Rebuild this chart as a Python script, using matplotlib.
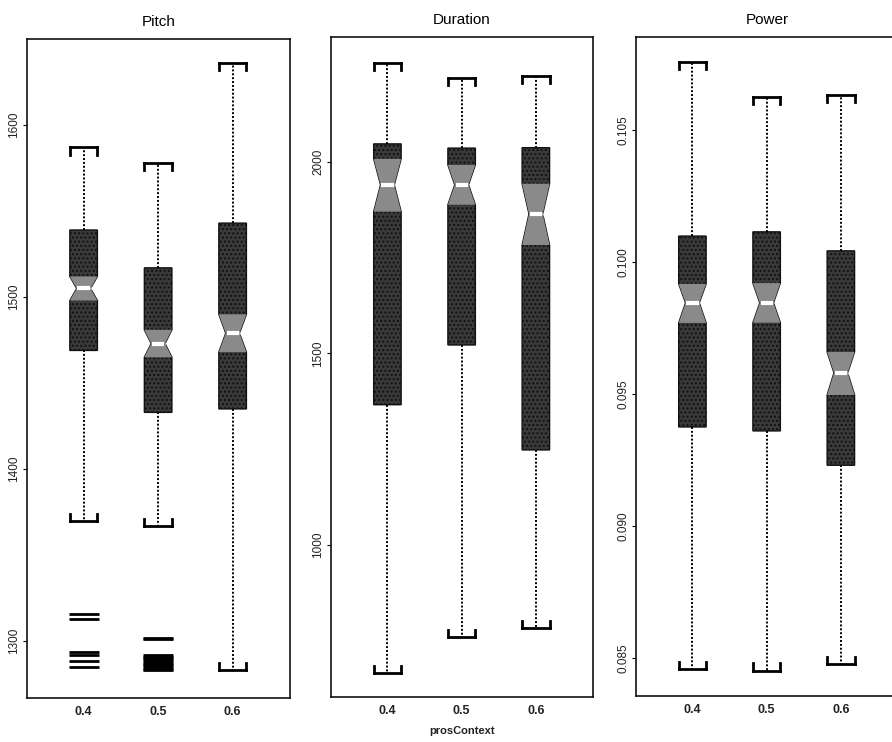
import matplotlib
matplotlib.use("Agg")
import matplotlib.pyplot as plt

plt.rcParams['font.family'] = ['Liberation Sans', 'DejaVu Sans']

categories = ["0.4", "0.5", "0.6"]
titles = ["Pitch", "Duration", "Power"]

# Pitch
pitch_whislo = [1370, 1367, 1283]
pitch_q1 = [1469, 1433, 1435]
pitch_cilo = [1498, 1465, 1468]
pitch_med = [1505, 1473, 1479]
pitch_cihi = [1512, 1481, 1490]
pitch_q3 = [1539, 1517, 1543]
pitch_whishi = [1587, 1578, 1636]
pitch_fliers = [
    [1315.7, 1312.8, 1294, 1291.9, 1288.4, 1284.9],
    [1302, 1301.5, 1292, 1291, 1290, 1289, 1288, 1287, 1286, 1285, 1284, 1283],
    [],
]

# Duration
dur_whislo = [666, 760, 783]
dur_q1 = [1366, 1522, 1248]
dur_cilo = [1870, 1888, 1783]
dur_med = [1940, 1940, 1864]
dur_cihi = [2008, 1992, 1943]
dur_q3 = [2047, 2036, 2037]
dur_whishi = [2258, 2219, 2224]
dur_fliers = [[], [], []]

# Power
pow_whislo = [0.08458, 0.08452, 0.08477]
pow_q1 = [0.09375, 0.0936, 0.0923]
pow_cilo = [0.09769, 0.0977, 0.09496]
pow_med = [0.09845, 0.09845, 0.0958]
pow_cihi = [0.09917, 0.0992, 0.09659]
pow_q3 = [0.10098, 0.10114, 0.10042]
pow_whishi = [0.10758, 0.10625, 0.10633]
pow_fliers = [[], [], []]

panels = [
    (pitch_whislo, pitch_q1, pitch_cilo, pitch_med, pitch_cihi, pitch_q3, pitch_whishi, pitch_fliers,
     (1267, 1650), [1300, 1400, 1500, 1600], ["1300", "1400", "1500", "1600"]),
    (dur_whislo, dur_q1, dur_cilo, dur_med, dur_cihi, dur_q3, dur_whishi, dur_fliers,
     (603, 2326), [1000, 1500, 2000], ["1000", "1500", "2000"]),
    (pow_whislo, pow_q1, pow_cilo, pow_med, pow_cihi, pow_q3, pow_whishi, pow_fliers,
     (0.08356, 0.10852), [0.085, 0.090, 0.095, 0.100, 0.105],
     ["0.085", "0.090", "0.095", "0.100", "0.105"]),
]

W, H = 892, 742
fig = plt.figure(figsize=(W / 100, H / 100), dpi=100)
axes_px = [(27, 39, 290, 698), (331, 37, 593, 697), (636, 37, 898, 696)]

width = 0.37
positions = [1, 2, 3]

for k, (ax_px, panel) in enumerate(zip(axes_px, panels)):
    l, t, r, b = ax_px
    ax = fig.add_axes([l / W, 1 - b / H, (r - l) / W, (b - t) / H])
    wl, q1, cl, md, ch, q3, wh, fl, ylim, yt, ytl = panel
    stats = []
    for i in range(3):
        stats.append(dict(med=md[i], q1=q1[i], q3=q3[i], whislo=wl[i], whishi=wh[i],
                          cilo=cl[i], cihi=ch[i], fliers=fl[i]))
    ax.bxp(stats, positions=positions, widths=width, capwidths=width,
           shownotches=True, patch_artist=True,
           boxprops=dict(facecolor="#3a3a3a", edgecolor="#111111", linewidth=1.0, hatch="...."),
           medianprops=dict(color="white", linewidth=2.5),
           whiskerprops=dict(color="black", linewidth=1.4, linestyle=(0, (1, 1))),
           capprops=dict(color="black", linewidth=2.0),
           flierprops=dict(marker="_", markersize=21, markeredgewidth=2.0,
                           markeredgecolor="black", linestyle="none"))
    ax.set_ylim(*ylim)
    ax.set_xlim(0.24, 3.77)
    span = ylim[1] - ylim[0]
    tick = 0.011 * span
    for i, p in enumerate(positions):
        # lighter notch region
        xl, xr = p - width / 2, p + width / 2
        nl, nr = p - width / 4, p + width / 4
        ax.fill([xl, xr, nr, xr, xl, nl], [cl[i], cl[i], md[i], ch[i], ch[i], md[i]],
                facecolor="#8a8a8a", edgecolor="none", hatch="....", zorder=2.5)
        ax.plot([p - width / 4.5, p + width / 4.5], [md[i], md[i]], color="white",
                linewidth=3, solid_capstyle="butt", zorder=3)
        # cap end ticks
        for x in (xl, xr):
            ax.plot([x, x], [wh[i], wh[i] - tick], color="black", linewidth=2.0, zorder=3)
            ax.plot([x, x], [wl[i], wl[i] + tick], color="black", linewidth=2.0, zorder=3)
    ax.set_xticks(positions)
    ax.set_xticklabels(categories, fontsize=9, fontweight="bold", color="#222222")
    ax.tick_params(axis="x", length=0, pad=6)
    ax.set_yticks(yt)
    ax.set_yticklabels(ytl, rotation=90, va="center", fontsize=8.5, color="#222222")
    ax.tick_params(axis="y", length=3, width=0.8, pad=2)
    for s in ax.spines.values():
        s.set_linewidth(1.2)
        s.set_color("#111111")
    ax.set_title(titles[k], fontsize=11, pad=9)
    if k == 1:
        ax.set_xlabel("prosContext", fontsize=8, fontweight="bold", labelpad=6, color="#222222")

fig.savefig("out.png", dpi=100)
